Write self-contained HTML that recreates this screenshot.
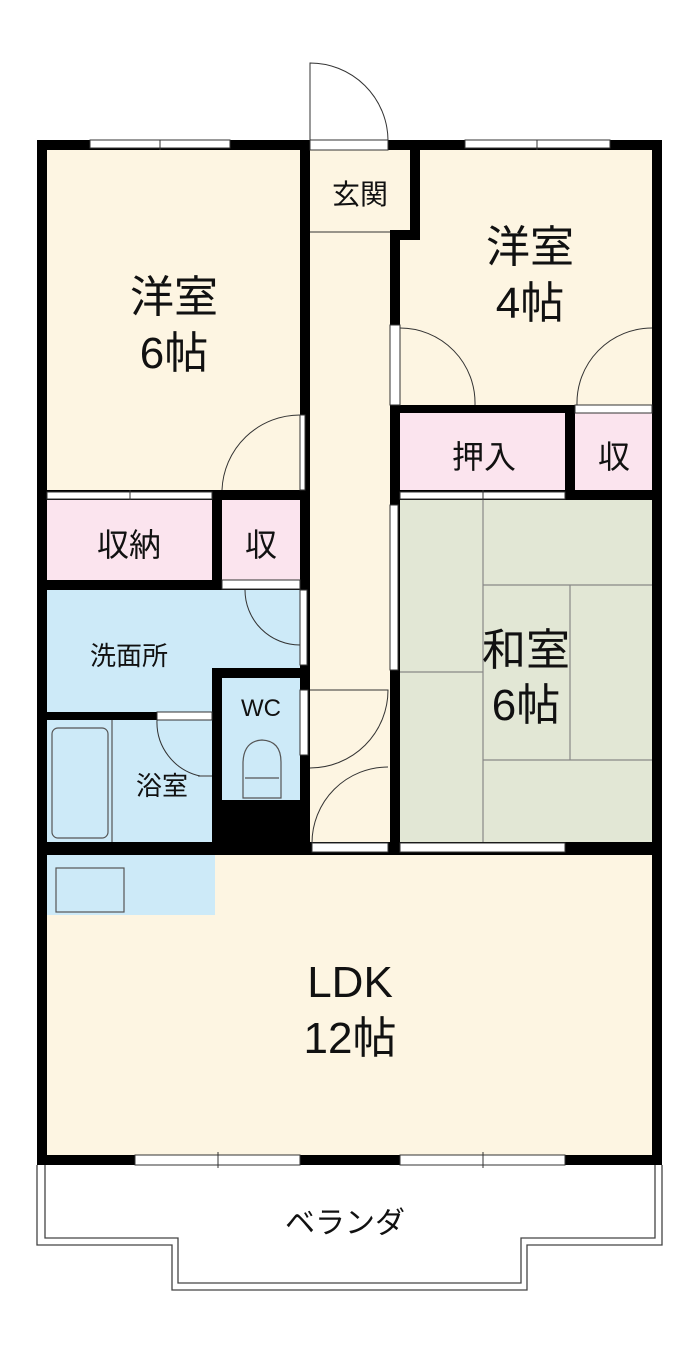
<!DOCTYPE html>
<html><head><meta charset="utf-8"><style>
html,body{margin:0;padding:0;background:#fff;}
svg{display:block;}
text{font-family:"Liberation Sans","Noto Sans CJK JP",sans-serif;fill:#111;}
</style></head><body>
<svg width="700" height="1359" viewBox="0 0 700 1359" xmlns="http://www.w3.org/2000/svg">
<!-- floors -->
<rect x="42" y="145" width="615" height="1015" fill="#fdf5e2"/>
<rect x="47" y="500" width="165" height="80" fill="#fbe4ee"/>
<rect x="222" y="500" width="78" height="80" fill="#fbe4ee"/>
<rect x="400" y="413" width="165" height="77" fill="#fbe4ee"/>
<rect x="575" y="413" width="77" height="77" fill="#fbe4ee"/>
<rect x="47" y="590" width="253" height="125" fill="#cdeaf8"/>
<rect x="47" y="720" width="165" height="122" fill="#cdeaf8"/>
<rect x="222" y="678" width="78" height="122" fill="#cdeaf8"/>
<rect x="47" y="855" width="168" height="60" fill="#cdeaf8"/>
<rect x="400" y="500" width="252" height="345" fill="#e2e7d5"/>
<!-- tatami lines -->
<g stroke="#888" stroke-width="1.2" fill="none">
<line x1="483" y1="500" x2="483" y2="845"/>
<line x1="483" y1="585" x2="652" y2="585"/>
<line x1="570" y1="585" x2="570" y2="760"/>
<line x1="400" y1="672" x2="483" y2="672"/>
<line x1="483" y1="760" x2="652" y2="760"/>
</g>
<!-- bath, kitchen, toilet -->
<g stroke="#555" stroke-width="1.2" fill="none">
<line x1="112" y1="720" x2="112" y2="842"/>
<rect x="52" y="728" width="56" height="110" rx="6"/>
<rect x="56" y="868" width="68" height="44"/>
<path d="M243 762 Q244 741 262 740 Q281 741 281 762 L281 798 L243 798 Z"/>
<line x1="245" y1="778" x2="279" y2="778"/>
<line x1="213" y1="776" x2="198" y2="776"/>
</g>
<!-- black walls -->
<g fill="#000">
<rect x="37" y="140" width="10" height="1025"/>
<rect x="652" y="140" width="10" height="1025"/>
<rect x="37" y="140" width="273" height="10"/>
<rect x="388" y="140" width="274" height="10"/>
<rect x="37" y="1155" width="625" height="10"/>
<rect x="300" y="140" width="10" height="715"/>
<rect x="410" y="140" width="10" height="100"/>
<rect x="390" y="230" width="30" height="10"/>
<rect x="390" y="230" width="10" height="625"/>
<rect x="390" y="405" width="262" height="8"/>
<rect x="565" y="405" width="10" height="95"/>
<rect x="37" y="490" width="263" height="10"/>
<rect x="212" y="490" width="10" height="100"/>
<rect x="37" y="580" width="263" height="10"/>
<rect x="212" y="668" width="98" height="10"/>
<rect x="212" y="668" width="10" height="185"/>
<rect x="37" y="712" width="175" height="8"/>
<rect x="212" y="800" width="95" height="53"/>
<rect x="37" y="842" width="625" height="13"/>
<rect x="390" y="490" width="262" height="10"/>
</g>
<!-- windows / openings (white with lines) -->
<g fill="#fff" stroke="#333" stroke-width="1">
<rect x="90" y="140" width="140" height="8"/>
<rect x="465" y="140" width="145" height="8"/>
<rect x="135" y="1155" width="165" height="10"/>
<rect x="400" y="1155" width="165" height="10"/>
<rect x="310" y="140" width="78" height="10"/>
<rect x="47" y="492" width="165" height="7"/>
<rect x="400" y="492" width="165" height="7"/>
<rect x="400" y="843" width="165" height="9"/>
<rect x="312" y="843" width="76" height="9"/>
<rect x="222" y="580" width="78" height="9"/>
<rect x="157" y="712" width="55" height="8"/>
<rect x="300" y="415" width="5" height="75"/>
<rect x="300" y="590" width="7" height="75"/>
<rect x="300" y="690" width="8" height="65"/>
<rect x="390" y="325" width="10" height="80"/>
<rect x="575" y="405" width="77" height="8"/>
<rect x="390" y="505" width="8" height="165"/>
</g>
<g stroke="#333" stroke-width="1" fill="none">
<line x1="160" y1="140" x2="160" y2="150"/>
<line x1="537" y1="140" x2="537" y2="150"/>
<line x1="218" y1="1152" x2="218" y2="1168"/>
<line x1="483" y1="1152" x2="483" y2="1168"/>
<line x1="130" y1="490" x2="130" y2="500"/>
<line x1="483" y1="490" x2="483" y2="500"/>
<line x1="310" y1="232" x2="390" y2="232"/>
<!-- door arcs -->
<path d="M310 140 L310 63 A78 78 0 0 1 388 140"/>
<path d="M300 415 A78 78 0 0 0 222 490"/>
<path d="M400 328 A75 75 0 0 1 475 405"/>
<path d="M652 328 A75 75 0 0 0 577 405"/>
<path d="M245 590 A55 55 0 0 0 300 645"/>
<path d="M310 690 L388 690 A78 78 0 0 1 310 768"/>
<path d="M388 767 A76 76 0 0 0 312 843"/>
<path d="M157 720 A55 55 0 0 0 200 776"/>
<!-- balcony -->
<path d="M37 1165 L37 1245 L172 1245 L172 1290 L527 1290 L527 1245 L662 1245 L662 1165" stroke="#444" stroke-width="1.3"/>
<path d="M45 1165 L45 1238 L178 1238 L178 1283 L521 1283 L521 1238 L655 1238 L655 1165" stroke="#444" stroke-width="1.3"/>
</g>
<!-- labels -->
<text x="174" y="312" font-size="44" text-anchor="middle">洋室</text>
<text x="174" y="368" font-size="44" text-anchor="middle">6帖</text>
<text x="530" y="262" font-size="44" text-anchor="middle">洋室</text>
<text x="530" y="318" font-size="44" text-anchor="middle">4帖</text>
<text x="360" y="204" font-size="28" text-anchor="middle">玄関</text>
<text x="484" y="468" font-size="32" text-anchor="middle">押入</text>
<text x="614" y="468" font-size="32" text-anchor="middle">収</text>
<text x="129" y="556" font-size="32" text-anchor="middle">収納</text>
<text x="261" y="556" font-size="32" text-anchor="middle">収</text>
<text x="129" y="665" font-size="26" text-anchor="middle">洗面所</text>
<text x="261" y="716" font-size="24" text-anchor="middle">WC</text>
<text x="162" y="795" font-size="26" text-anchor="middle">浴室</text>
<text x="526" y="665" font-size="44" text-anchor="middle">和室</text>
<text x="526" y="720" font-size="44" text-anchor="middle">6帖</text>
<text x="350" y="997" font-size="44" text-anchor="middle">LDK</text>
<text x="350" y="1053" font-size="44" text-anchor="middle">12帖</text>
<text x="345" y="1233" font-size="30" text-anchor="middle">ベランダ</text>
</svg>
</body></html>
